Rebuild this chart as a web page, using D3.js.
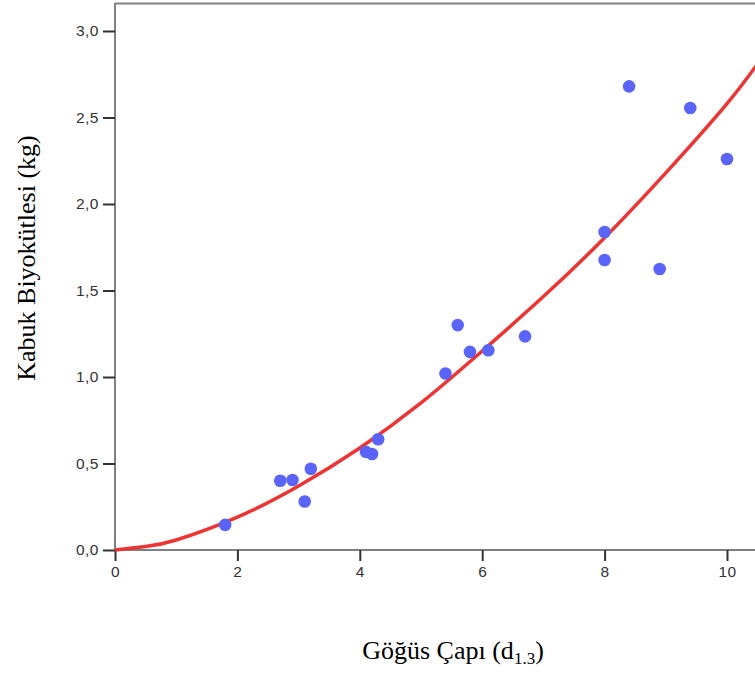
<!DOCTYPE html>
<html>
<head>
<meta charset="utf-8">
<script src="https://cdn.jsdelivr.net/npm/d3@7"></script>
<style>
  body { margin: 0; background: #fff; }
  svg { display: block; }
</style>
</head>
<body>
<script>
// measured points: chest diameter vs bark biomass
var diameters = [1.8, 2.7, 2.9, 3.1, 3.2, 4.1, 4.2, 4.3, 5.4, 5.6, 5.8, 6.1, 6.7, 8.0, 8.0, 8.4, 8.9, 9.4, 10.0];
var biomass   = [0.145, 0.40, 0.405, 0.28, 0.47, 0.567, 0.555, 0.64, 1.02, 1.30, 1.145, 1.155, 1.235, 1.838, 1.676, 2.68, 1.624, 2.555, 2.26];

// fitted curve
var fitX = [0, 0.5, 1, 2, 3, 4, 5, 6, 7, 8, 9, 10, 10.6];
var fitY = [0, 0.02, 0.058, 0.19, 0.37, 0.59, 0.85, 1.15, 1.465, 1.805, 2.18, 2.58, 2.86];

var xTicks = [0, 2, 4, 6, 8, 10];
var yTicks = [0, 0.5, 1.0, 1.5, 2.0, 2.5, 3.0];

var width = 755, height = 675;

var x = d3.scaleLinear().domain([0, 10]).range([115, 727]);
var y = d3.scaleLinear().domain([0, 3]).range([550, 31]);

var svg = d3.select("body").append("svg")
    .attr("width", width)
    .attr("height", height);

// frame
svg.append("line")
    .attr("x1", 115).attr("x2", width + 5)
    .attr("y1", 3.5).attr("y2", 3.5)
    .attr("stroke", "#808080").attr("stroke-width", 2);

var fmt = function(d) { return d3.format(".1f")(d).replace(".", ","); };

var xAxis = d3.axisBottom(x).tickValues(xTicks).tickSize(11).tickPadding(5);
var yAxis = d3.axisLeft(y).tickValues(yTicks).tickSize(12).tickPadding(4).tickFormat(fmt);

var gx = svg.append("g")
    .attr("transform", "translate(0," + y(0) + ")")
    .call(xAxis);
gx.select(".domain").attr("d", "M115,0H" + (width + 5)).attr("stroke", "#808080").attr("stroke-width", 2);

var gy = svg.append("g")
    .attr("transform", "translate(" + x(0) + ",0)")
    .call(yAxis);
gy.select(".domain").attr("d", "M0,3H0V" + (y(0) + 1)).attr("stroke", "#808080").attr("stroke-width", 2);

svg.selectAll(".tick line").attr("stroke", "#333").attr("stroke-width", 2);
svg.selectAll(".tick text")
    .attr("fill", "#333")
    .attr("font-family", "'Liberation Sans', Arial, sans-serif")
    .attr("font-size", 15.5)
    .style("letter-spacing", "0.5px");

// fit curve
var line = d3.line()
    .x(function(d, i) { return x(fitX[i]); })
    .y(function(d) { return y(d); })
    .curve(d3.curveNatural);

svg.append("path")
    .datum(fitY)
    .attr("d", line)
    .attr("fill", "none")
    .attr("stroke", "#ee3333")
    .attr("stroke-width", 3.5);

// points
svg.append("g").selectAll("circle")
    .data(diameters)
  .enter().append("circle")
    .attr("cx", function(d) { return x(d); })
    .attr("cy", function(d, i) { return y(biomass[i]); })
    .attr("r", 6.3)
    .attr("fill", "#5a64f8");

// axis titles
var serif = "'Liberation Serif', 'Times New Roman', serif";

svg.append("text")
    .attr("transform", "translate(35,258) rotate(-90)")
    .attr("text-anchor", "middle")
    .style("font-family", serif)
    .style("font-size", "26px")
    .text("Kabuk Biyokütlesi (kg)");

var xt = svg.append("text")
    .attr("x", 453)
    .attr("y", 659)
    .attr("text-anchor", "middle")
    .style("font-family", serif)
    .style("font-size", "26px");
xt.append("tspan").text("Göğüs Çapı (d");
xt.append("tspan").attr("dy", 5).style("font-size", "17px").text("1.3");
xt.append("tspan").attr("dy", -5).text(")");
</script>
</body>
</html>
